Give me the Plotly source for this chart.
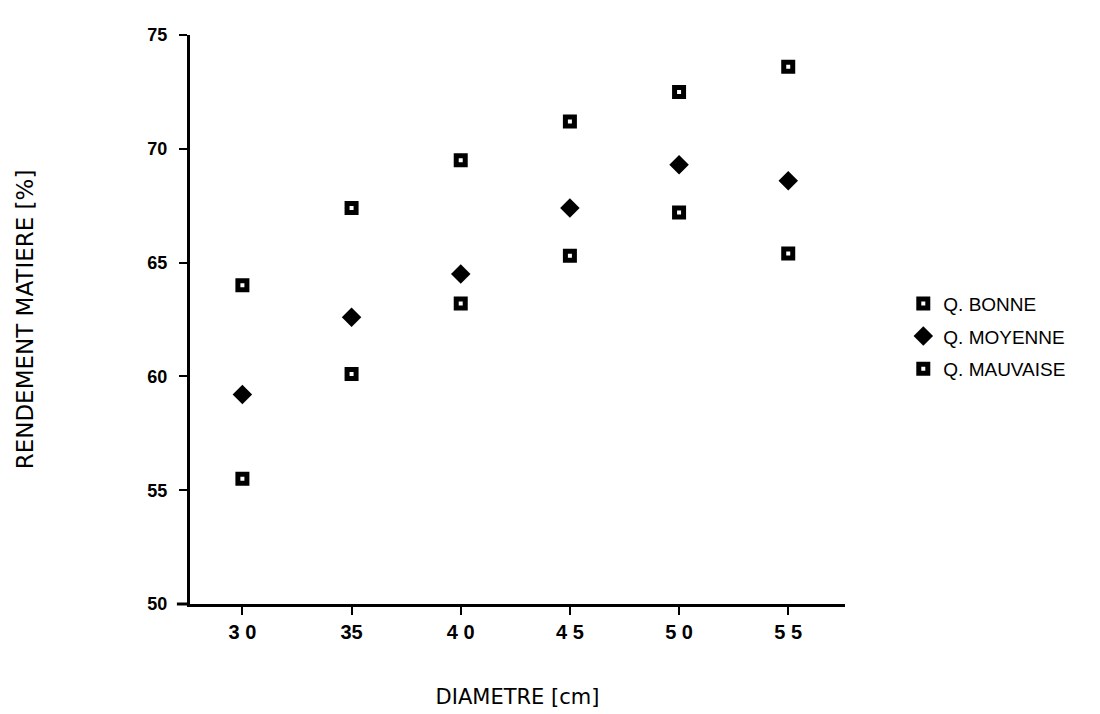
import plotly.graph_objects as go

diametre = [30, 35, 40, 45, 50, 55]
x_tick_vals = [30, 35, 40, 45, 50, 55]
x_tick_text = ["3 0", "35", "4 0", "4 5", "5 0", "5 5"]
y_tick_vals = [50, 55, 60, 65, 70, 75]

q_bonne = [64.0, 67.4, 69.5, 71.2, 72.5, 73.6]
q_moyenne = [59.2, 62.6, 64.5, 67.4, 69.3, 68.6]
q_mauvaise = [55.5, 60.1, 63.2, 65.3, 67.2, 65.4]

fig = go.Figure()
sq = dict(symbol="square", size=9, color="white", line=dict(color="black", width=5))
fig.add_trace(go.Scatter(x=diametre, y=q_bonne, mode="markers", name="Q. BONNE",
                         legendgroup="b", marker=sq))
fig.add_trace(go.Scatter(x=diametre, y=q_moyenne, mode="markers", name="Q. MOYENNE",
                         legendgroup="m", marker=dict(symbol="diamond", size=15, color="black")))
fig.add_trace(go.Scatter(x=diametre, y=q_mauvaise, mode="markers", name="Q. MAUVAISE",
                         legendgroup="v", marker=sq))

fig.update_layout(
    width=1100, height=714,
    paper_bgcolor="white", plot_bgcolor="white",
    margin=dict(l=182, r=263, t=27, b=118),
    font=dict(family="Liberation Sans, Arial, sans-serif", color="black"),
    showlegend=True,
    legend=dict(x=1.089, y=0.47, xanchor="left", yanchor="middle",
                font=dict(size=19, family="Liberation Sans Narrow, Liberation Sans, Arial"),
                itemwidth=30, tracegroupgap=5),
    shapes=[dict(type="line", xref="paper", yref="paper", x0=-0.02, x1=0, y0=0, y1=0,
                 line=dict(color="black", width=3))],
)
fig.update_xaxes(
    range=[27.6, 57.6], tickmode="array", tickvals=x_tick_vals, ticktext=x_tick_text,
    showgrid=False, zeroline=False, showline=True, linecolor="black", linewidth=3,
    ticks="outside", ticklen=8, tickwidth=2, tickcolor="black",
    tickfont=dict(size=20, family="Liberation Sans, Arial", weight="bold"),
    title=dict(text="DIAMETRE [cm]", font=dict(size=21, family="DejaVu Sans"), standoff=48),
)
fig.update_yaxes(
    range=[50, 75], tickmode="array", tickvals=y_tick_vals,
    showgrid=False, zeroline=False, showline=True, linecolor="black", linewidth=3,
    ticks="outside", ticklen=8, tickwidth=2, tickcolor="black", ticklabelstandoff=8,
    tickfont=dict(size=18, family="Liberation Sans, Arial", weight="bold"),
    title=dict(text="RENDEMENT MATIERE [%]", font=dict(size=23, family="DejaVu Sans"), standoff=108),
)

fig.write_html("out.html")
